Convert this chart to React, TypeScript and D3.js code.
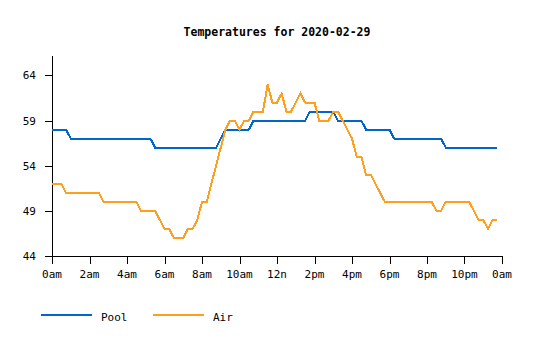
import React from "react";
import * as d3 from "d3";

const TITLE = "Temperatures for 2020-02-29";
const SAMPLE_HOURS = 0.25; // one reading every 15 minutes

const poolTemps: number[] = [
  58, 58, 58, 58,
  57, 57, 57, 57, 57, 57, 57, 57, 57, 57, 57, 57, 57, 57, 57, 57, 57, 57,
  56, 56, 56, 56, 56, 56, 56, 56, 56, 56, 56, 56, 56, 56,
  57,
  58, 58, 58, 58, 58, 58,
  59, 59, 59, 59, 59, 59, 59, 59, 59, 59, 59, 59,
  60, 60, 60, 60, 60, 60,
  59, 59, 59, 59, 59, 59,
  58, 58, 58, 58, 58, 58,
  57, 57, 57, 57, 57, 57, 57, 57, 57, 57, 57,
  56, 56, 56, 56, 56, 56, 56, 56, 56, 56, 56, 56,
];

const airTemps: number[] = [
  52, 52, 52,
  51, 51, 51, 51, 51, 51, 51, 51,
  50, 50, 50, 50, 50, 50, 50, 50,
  49, 49, 49, 49,
  48,
  47, 47,
  46, 46, 46,
  47, 47,
  48,
  50, 50,
  52, 54, 56, 58,
  59, 59,
  58,
  59, 59,
  60, 60, 60,
  63,
  61, 61,
  62,
  60, 60,
  61, 62,
  61, 61, 61,
  59, 59, 59,
  60, 60,
  59, 58, 57,
  55, 55,
  53, 53,
  52, 51,
  50, 50, 50, 50, 50, 50, 50, 50, 50, 50, 50,
  49, 49,
  50, 50, 50, 50, 50, 50,
  49,
  48, 48,
  47,
  48, 48,
];

const xTickHours: number[] = [0, 2, 4, 6, 8, 10, 12, 14, 16, 18, 20, 22, 24];
const xTickLabels: string[] = ["0am", "2am", "4am", "6am", "8am", "10am", "12n", "2pm", "4pm", "6pm", "8pm", "10pm", "0am"];
const yTicks: number[] = [44, 49, 54, 59, 64];

const series = [
  { name: "Pool", values: poolTemps, color: "#0066cc" },
  { name: "Air", values: airTemps, color: "#ff9f1c" },
];

const FONT = "'DejaVu Sans Mono', monospace";

export default function App() {
  const W = 535;
  const H = 340;
  const x = d3.scaleLinear().domain([0, 24]).range([52, 502]);
  const y = d3.scaleLinear().domain([44, 66.15]).range([256, 56]);

  const line = d3
    .line<number>()
    .x((_, i) => x(i * SAMPLE_HOURS))
    .y((d) => y(d));

  return (
    <svg
      width={W}
      height={H}
      style={{ position: "absolute", left: 0, top: 0, background: "#fff" }}
      fontFamily={FONT}
    >
      <text x={277} y={35.5} textAnchor="middle" fontSize={11.5} fontWeight="bold" fill="#000">
        {TITLE}
      </text>

      {/* y axis */}
      <line x1={52.5} x2={52.5} y1={y.range()[1]} y2={y.range()[0]} stroke="#000" strokeWidth={1} shapeRendering="crispEdges" />
      {yTicks.map((t) => (
        <g key={"y" + t}>
          <line x1={45} x2={52} y1={Math.round(y(t)) + 0.5} y2={Math.round(y(t)) + 0.5} stroke="#000" shapeRendering="crispEdges" />
          <text x={36} y={y(t) + 4} textAnchor="end" fontSize={11} fill="#000">
            {t}
          </text>
        </g>
      ))}

      {/* x axis */}
      <line x1={52} x2={502} y1={256.5} y2={256.5} stroke="#000" strokeWidth={1} shapeRendering="crispEdges" />
      {xTickHours.map((h, i) => (
        <g key={"x" + i}>
          <line x1={Math.round(x(h)) + 0.5} x2={Math.round(x(h)) + 0.5} y1={256} y2={264} stroke="#000" shapeRendering="crispEdges" />
          <text x={x(h)} y={278} textAnchor="middle" fontSize={11} fill="#000">
            {xTickLabels[i]}
          </text>
        </g>
      ))}

      {/* lines */}
      {series.map((s) => (
        <path
          key={s.name}
          d={line(s.values) || ""}
          fill="none"
          stroke={s.color}
          strokeWidth={2}
          shapeRendering="crispEdges"
        />
      ))}

      {/* legend */}
      {series.map((s, i) => (
        <g key={"lg" + s.name} transform={`translate(${41 + i * 112},0)`}>
          <line x1={0} x2={51} y1={315} y2={315} stroke={s.color} strokeWidth={2} shapeRendering="crispEdges" />
          <text x={60} y={320.5} fontSize={11} fill="#000">
            {s.name}
          </text>
        </g>
      ))}
    </svg>
  );
}
